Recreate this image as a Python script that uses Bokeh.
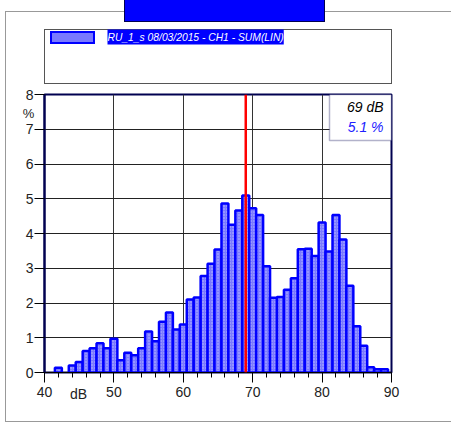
from bokeh.plotting import figure
from bokeh.models import (ColumnDataSource, FixedTicker, Span, BoxAnnotation, Label)
from bokeh.embed import file_html
from bokeh.resources import INLINE

# ---- data ----
db_levels = list(range(41, 90))
percent = [0.00, 0.14, 0.00, 0.20, 0.30, 0.62, 0.70, 0.84, 0.70, 0.97,
           0.35, 0.57, 0.50, 0.70, 1.18, 0.90, 1.46, 1.73, 1.24, 1.38,
           2.10, 2.16, 2.78, 3.13, 3.54, 4.86, 4.25, 4.66, 5.09, 4.73,
           4.53, 3.06, 2.15, 2.17, 2.38, 2.71, 3.55, 3.56, 3.35, 4.32,
           3.48, 4.53, 3.83, 2.50, 1.33, 0.77, 0.15, 0.09, 0.09]
x_major_ticks = [40, 50, 60, 70, 80, 90]
x_minor_ticks = list(range(42, 90, 2))
y_ticks = [0, 1, 2, 3, 4, 5, 6, 7, 8]
marker_db = 69
marker_pct = 5.1
series_name = "RU_1_s 08/03/2015 - CH1 - SUM(LIN)"

FONT = "Liberation Sans"
BLUE = "#0000ff"
NAVY = "#000050"
BAR_FILL = "#7a7aff"

xs = [d for d, v in zip(db_levels, percent) if v > 0]
ys = [v for v in percent if v > 0]
src = ColumnDataSource(dict(x=xs, top=ys))


def css_rect(l, t, w, h, color):
    return f"linear-gradient({color},{color}) {l}px {t}px / {w}px {h}px no-repeat"


# decorative page furniture drawn as CSS background layers (first = top)
layers = [
    css_rect(52, 33, 41, 9, BAR_FILL),      # legend swatch fill
    css_rect(50, 31, 45, 13, BLUE),         # legend swatch border
    css_rect(45, 30, 346, 53, "white"),     # legend box inside
    css_rect(44, 29, 348, 55, "#555555"),   # legend box border
    css_rect(125, 0, 199, 21, BLUE),        # title box fill
    css_rect(124, 0, 201, 22, NAVY),        # title box border
    css_rect(6, 12, 460, 409, "white"),     # outer frame inside
    css_rect(5, 11, 460, 411, "#999999"),   # outer frame border
]

p = figure(width=451, height=423, x_range=(40, 90), y_range=(0, 8),
           output_backend="svg", toolbar_location=None,
           min_border_left=44, min_border_right=60,
           min_border_top=94, min_border_bottom=51)
p.styles = {"position": "absolute", "left": "0px", "top": "0px",
            "background": ", ".join(layers) + ", white"}

p.background_fill_color = "white"
p.border_fill_color = None
p.outline_line_color = NAVY
p.outline_line_width = 2

# bars
p.vbar(x="x", top="top", width=1, bottom=0, source=src,
       fill_color=BAR_FILL, line_color=BLUE, line_width=2.5,
       hatch_pattern="dot", hatch_color="white", hatch_scale=3,
       hatch_alpha=0.5)

# axes
xa = p.xaxis[0]
xa.ticker = FixedTicker(ticks=x_major_ticks, minor_ticks=x_minor_ticks)
xa.axis_line_color = "black"
xa.axis_line_width = 1
xa.major_tick_out = 10
xa.major_tick_in = 0
xa.minor_tick_out = 5
xa.minor_tick_in = 0
xa.major_label_standoff = 4
xa.major_label_text_font = FONT
xa.major_label_text_font_size = "14px"
xa.major_label_text_color = "#222222"

ya = p.yaxis[0]
ya.ticker = FixedTicker(ticks=y_ticks, minor_ticks=[])
ya.axis_line_color = NAVY
ya.axis_line_width = 2
ya.major_tick_out = 10
ya.major_tick_in = 0
ya.major_label_standoff = 1
ya.major_label_text_font = FONT
ya.major_label_text_font_size = "14px"
ya.major_label_text_color = "#222222"

p.xgrid.ticker = FixedTicker(ticks=x_major_ticks[1:-1])
p.xgrid.grid_line_color = "#333333"
p.xgrid.grid_line_width = 1
p.ygrid.ticker = FixedTicker(ticks=y_ticks[1:-1])
p.ygrid.grid_line_color = "#222222"
p.ygrid.grid_line_width = 1

# marker line
p.add_layout(Span(location=marker_db, dimension="height",
                  line_color="#ff0000", line_width=2.5))


def lab(x, y, text, size, color="#222222", align="left", style="normal", **kw):
    return Label(x=x, y=y, x_units="canvas", y_units="canvas", text=text,
                 text_font=FONT, text_font_size=size, text_color=color,
                 text_align=align, text_baseline="middle", text_font_style=style, **kw)


outside = [
    lab(107, 36.5, series_name, "10.3px", color="white", style="italic",
        background_fill_color=BLUE, padding=(0, 2)),
    lab(28, 113, "%", "13px", align="center"),
    lab(78, 393, "dB", "14px", align="center"),
]
for item in outside:
    p.add_layout(item, "above")

p.add_layout(BoxAnnotation(left=329, right=391, top=94, bottom=140,
                           left_units="canvas", right_units="canvas",
                           top_units="canvas", bottom_units="canvas",
                           fill_color="white", fill_alpha=1,
                           line_color=NAVY, line_width=1.5))
p.add_layout(lab(383, 106.5, f"{marker_db} dB", "14px", color="black", align="right", style="italic"))
p.add_layout(lab(383, 126.5, f"{marker_pct} %", "14px", color="#2020ff", align="right", style="italic"))

open("out.html", "w").write(file_html(p, INLINE))
